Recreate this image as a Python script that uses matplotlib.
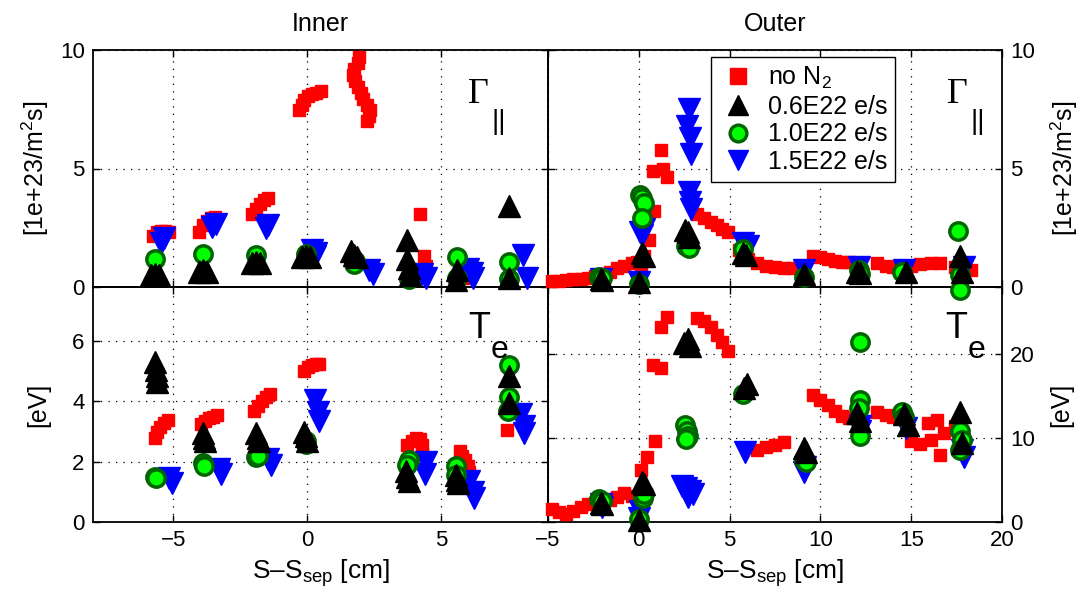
import matplotlib
matplotlib.use("Agg")
import matplotlib.pyplot as plt
from matplotlib.lines import Line2D
import numpy as np

plt.rcParams['font.family'] = ['Liberation Sans', 'DejaVu Sans']
plt.rcParams['mathtext.fontset'] = 'custom'
plt.rcParams['mathtext.rm'] = 'Liberation Sans'
plt.rcParams['mathtext.it'] = 'Liberation Sans:italic'
plt.rcParams['mathtext.bf'] = 'Liberation Sans:bold'

series_labels = ['no N$_2$', '0.6E22 e/s', '1.0E22 e/s', '1.5E22 e/s']

# ---- inner target, particle flux [1e23/m^2 s] ----
in_gam_red_x = [-5.75, -5.6, -5.45, -5.3, -5.15, -4.05, -3.9, -3.75, -3.6, -3.45,
                -2.05, -1.9, -1.75, -1.6, -1.45, -0.3, -0.2, -0.1, 0.05, 0.2, 0.35, 0.5,
                1.95, 1.9, 1.75, 1.7, 1.8, 1.9, 2.0, 2.1, 2.25, 2.35, 2.3, 2.25,
                4.2, 4.35, 4.45, 5.7, 5.9]
in_gam_red_y = [2.15, 2.3, 2.35, 2.35, 2.3, 2.3, 2.6, 2.8, 2.9, 2.95,
                3.1, 3.3, 3.5, 3.65, 3.75, 7.45, 7.7, 7.9, 8.05, 8.15, 8.2, 8.25,
                9.7, 9.45, 9.2, 8.95, 8.7, 8.45, 8.2, 7.95, 7.7, 7.45, 7.2, 7.0,
                3.1, 1.3, 0.9, 0.5, 0.4]
in_gam_blk_x = [-5.85, -5.7, -5.55, -4.05, -3.9, -3.75, -2.05, -1.9, -1.75, -0.2, -0.05, 0.1,
                1.65, 1.75, 1.85, 3.75, 3.75, 3.8, 3.85, 5.6, 5.55, 7.55, 7.55]
in_gam_blk_y = [0.5, 0.55, 0.5, 0.65, 0.7, 0.65, 1.0, 1.05, 1.0, 1.25, 1.3, 1.25,
                1.5, 1.35, 1.25, 2.0, 1.2, 0.8, 0.5, 0.7, 0.3, 3.4, 0.4]
in_gam_grn_x = [-5.7, -3.9, -1.9, -0.05, 1.8, 1.75, 3.8, 5.6, 5.6, 7.55, 7.55]
in_gam_grn_y = [1.2, 1.4, 1.35, 1.4, 1.1, 0.95, 0.35, 1.27, 0.4, 1.05, 0.35]
in_gam_blu_x = [-5.35, -5.45, -3.55, -3.4, -1.55, -1.45, 0.2, 0.35, 0.3, 2.3, 2.45,
                4.3, 4.45, 6.0, 6.15, 6.2, 8.05, 8.2]
in_gam_blu_y = [2.05, 1.85, 2.55, 2.65, 2.5, 2.6, 1.55, 1.45, 1.3, 0.7, 0.55,
                0.55, 0.4, 0.75, 0.6, 0.4, 1.35, 0.4]

# ---- inner target, electron temperature [eV] ----
in_te_red_x = [-5.7, -5.6, -5.5, -5.35, -5.2, -3.95, -3.8, -3.65, -3.5, -3.35,
               -2.0, -1.85, -1.7, -1.55, -1.4, -0.1, 0.05, 0.2, 0.35, 0.45,
               3.75, 3.9, 4.05, 4.2, 4.3, 4.3, 5.7, 5.8, 5.9, 6.0, 6.05, 7.45]
in_te_red_y = [2.8, 3.0, 3.15, 3.3, 3.4, 3.25, 3.35, 3.45, 3.5, 3.55,
               3.7, 3.85, 4.0, 4.15, 4.25, 5.0, 5.15, 5.2, 5.25, 5.25,
               2.55, 2.7, 2.8, 2.75, 2.55, 2.3, 2.35, 2.2, 2.05, 1.85, 1.65, 3.05]
in_te_blk_x = [-5.7, -5.65, -5.6, -5.6, -3.9, -3.85, -3.8, -1.9, -1.85, -1.8,
               -0.1, -0.05, 0.0, 3.7, 3.75, 3.8, 5.55, 5.6, 5.65, 7.55, 7.55]
in_te_blk_y = [5.3, 5.05, 4.85, 4.65, 2.95, 2.8, 2.7, 2.95, 2.8, 2.7,
               3.0, 2.85, 2.7, 1.7, 1.5, 1.35, 1.55, 1.4, 1.3, 4.85, 3.95]
in_te_grn_x = [-5.7, -5.65, -3.9, -3.85, -1.9, -1.85, -0.05, -0.05, 3.8, 3.75,
               5.55, 5.55, 7.55, 7.55, 7.5]
in_te_grn_y = [1.5, 1.45, 1.95, 1.85, 2.15, 2.2, 2.7, 2.6, 2.05, 1.9,
               1.85, 1.55, 5.2, 4.15, 3.7]
in_te_blu_x = [-5.15, -5.05, -3.3, -3.2, -1.45, -1.35, 0.3, 0.4, 0.45, 4.45, 4.4,
               6.05, 6.2, 6.25, 8.0, 8.1, 8.1]
in_te_blu_y = [1.45, 1.3, 1.75, 1.6, 2.1, 1.9, 4.05, 3.65, 3.35, 2.0, 1.6,
               1.35, 1.0, 0.8, 3.6, 3.2, 2.95]

# ---- outer target, particle flux ----
out_gam_red_x = [-4.8, -4.4, -4.0, -3.6, -3.2, -2.8, -2.4, -2.0, -1.6, -1.2, -0.8, -0.4,
                 -0.1, 0.1, 0.3, 0.55, 0.85, 0.8, 1.2, 1.35, 1.55, 3.2, 3.6, 4.0, 4.3,
                 4.6, 4.9, 5.5, 6.0, 6.5, 7.0, 7.5, 8.0, 8.5, 9.6, 10.0, 10.4, 10.8,
                 11.2, 11.6, 13.1, 13.6, 14.0, 15.0, 15.5, 16.1, 16.6, 17.4, 18.3]
out_gam_red_y = [0.25, 0.27, 0.3, 0.32, 0.35, 0.4, 0.45, 0.55, 0.65, 0.8, 0.9, 1.0,
                 1.05, 0.85, 1.3, 2.0, 3.2, 4.9, 5.8, 5.0, 4.65, 3.1, 2.9, 2.75, 2.6,
                 2.45, 2.3, 1.55, 1.2, 1.0, 0.9, 0.85, 0.8, 0.8, 1.3, 1.25, 1.2, 1.1,
                 1.05, 1.05, 1.0, 0.9, 0.85, 0.9, 0.95, 1.0, 1.0, 0.85, 0.7]
out_gam_blk_x = [-2.1, -2.0, 0.0, 0.2, 0.3, 2.55, 2.7, 2.75, 5.75, 5.9, 9.1,
                 12.0, 12.2, 14.7, 17.7, 17.8]
out_gam_blk_y = [0.35, 0.3, 0.2, 1.45, 1.3, 2.4, 2.3, 2.1, 1.45, 1.35, 0.55,
                 0.65, 0.6, 0.63, 1.3, 0.65]
out_gam_grn_x = [-2.2, -2.05, 0.0, 0.05, 0.2, 0.3, 0.15, 2.6, 2.75, 5.75, 9.1,
                 12.1, 12.2, 14.5, 17.6, 17.7, 17.7]
out_gam_grn_y = [0.42, 0.4, 0.14, 3.9, 3.75, 3.55, 2.9, 1.75, 1.65, 1.6, 0.42,
                 0.7, 0.55, 0.63, 2.35, 0.5, -0.12]
out_gam_blu_x = [-2.1, 0.0, 0.05, 0.2, 0.3, 2.75, 2.65, 2.8, 2.9, 2.75, 2.8, 2.85,
                 5.75, 6.0, 9.1, 12.1, 14.6, 17.9]
out_gam_blu_y = [0.35, 0.2, 2.3, 2.2, 2.45, 7.5, 6.8, 6.3, 5.6, 4.0, 3.6, 3.3,
                 1.85, 1.75, 0.7, 0.85, 0.7, 0.85]

# ---- outer target, electron temperature ----
out_te_red_x = [-4.8, -4.4, -4.0, -3.6, -3.2, -2.8, -2.4, -2.0, -1.6, -1.2, -0.8, -0.4,
                -0.1, 0.1, 0.45, 0.9, 0.8, 1.2, 1.2, 1.55, 3.2, 3.6, 4.0, 4.3, 4.6,
                4.9, 6.5, 7.0, 7.5, 8.0, 9.6, 10.0, 10.4, 10.8, 11.2, 11.6, 13.1,
                13.6, 14.0, 15.0, 15.5, 15.9, 16.1, 16.4, 16.6, 16.8, 17.4]
out_te_red_y = [1.5, 1.2, 1.0, 1.3, 1.8, 2.1, 2.3, 2.5, 2.6, 3.0, 3.4, 3.1,
                3.0, 6.2, 7.8, 9.6, 18.7, 18.3, 23.2, 24.4, 24.3, 24.0, 23.2, 22.3, 21.4,
                20.4, 8.6, 8.9, 9.2, 9.5, 15.1, 14.5, 13.9, 13.2, 12.6, 12.4, 13.1,
                12.7, 12.5, 9.6, 9.3, 11.8, 9.8, 12.2, 8.0, 10.6, 11.4]
out_te_blk_x = [-2.1, -2.0, 0.0, 0.2, 0.3, 2.5, 2.7, 2.8, 5.8, 5.95, 9.1, 9.2,
                12.0, 12.2, 14.6, 14.8, 17.7, 17.8]
out_te_blk_y = [2.3, 2.2, 0.2, 4.8, 4.5, 21.3, 21.8, 21.0, 16.0, 16.4, 8.8, 8.4,
                13.0, 12.0, 12.9, 11.6, 13.1, 9.4]
out_te_grn_x = [-2.2, -2.0, 0.0, 0.25, 0.3, 2.55, 2.65, 2.7, 2.6, 5.75, 9.1, 9.2,
                12.2, 12.2, 12.1, 12.2, 14.5, 14.6, 17.7, 17.8, 17.7]
out_te_grn_y = [2.7, 2.5, 0.3, 2.9, 3.3, 11.5, 10.8, 10.3, 9.9, 15.3, 7.4, 7.2,
                21.5, 14.5, 13.6, 10.2, 13.1, 12.5, 10.8, 9.8, 8.6]
out_te_blu_x = [-2.1, -2.05, 0.0, 0.05, 2.4, 2.6, 2.8, 3.0, 2.7, 5.85, 9.1, 9.15,
                12.2, 12.2, 14.7, 17.9, 17.8]
out_te_blu_y = [2.1, 1.8, 0.5, 1.3, 4.3, 4.0, 3.7, 3.3, 3.0, 8.4, 6.0, 6.6,
                11.4, 10.8, 11.2, 7.8, 8.6]

styles = [
    dict(marker='s', color='#ff0000', markersize=9, markeredgecolor='#ff0000'),
    dict(marker='^', color='black', markersize=16, markeredgecolor='black'),
    dict(marker='o', markerfacecolor='#00ff00', markeredgecolor='#006400',
         markeredgewidth=2.5, markersize=12.5, color='#006400'),
    dict(marker='v', color='#0000ff', markersize=16, markeredgecolor='#0000ff'),
]

fig = plt.figure(figsize=(10.91, 6.11), dpi=100)
L, M, R = 93 / 1091, 548 / 1091, 1002 / 1091
B, Mid, T = 1 - 522 / 611, 1 - 287 / 611, 1 - 50 / 611
ax_bl = fig.add_axes([L, B, M - L, Mid - B])
ax_br = fig.add_axes([M, B, R - M, Mid - B])
ax_tl = fig.add_axes([L, Mid, M - L, T - Mid])
ax_tr = fig.add_axes([M, Mid, R - M, T - Mid])


def draw(ax, data):
    # draw order: red, blue, green, black (black ends up on top)
    for idx in [0, 3, 2, 1]:
        x, y = data[idx]
        ax.plot(x, y, linestyle='none', clip_on=False, zorder=3, **styles[idx])


draw(ax_tl, [(in_gam_red_x, in_gam_red_y), (in_gam_blk_x, in_gam_blk_y),
             (in_gam_grn_x, in_gam_grn_y), (in_gam_blu_x, in_gam_blu_y)])
draw(ax_bl, [(in_te_red_x, in_te_red_y), (in_te_blk_x, in_te_blk_y),
             (in_te_grn_x, in_te_grn_y), (in_te_blu_x, in_te_blu_y)])
draw(ax_tr, [(out_gam_red_x, out_gam_red_y), (out_gam_blk_x, out_gam_blk_y),
             (out_gam_grn_x, out_gam_grn_y), (out_gam_blu_x, out_gam_blu_y)])
draw(ax_br, [(out_te_red_x, out_te_red_y), (out_te_blk_x, out_te_blk_y),
             (out_te_grn_x, out_te_grn_y), (out_te_blu_x, out_te_blu_y)])

for ax in [ax_tl, ax_tr, ax_bl, ax_br]:
    ax.set_facecolor('none')
    ax.set_axisbelow(True)
    ax.grid(True, color='black', linestyle=(0, (1, 5)), linewidth=0.9)
    ax.tick_params(direction='in', length=5, width=1, top=True, right=True,
                   labelsize=16, pad=6)
    for sp in ax.spines.values():
        sp.set_linewidth(1.3)

ax_tl.set_xlim(-8, 9)
ax_bl.set_xlim(-8, 9)
ax_tr.set_xlim(-5, 20)
ax_br.set_xlim(-5, 20)
ax_tl.set_ylim(0, 10)
ax_tr.set_ylim(0, 10)
ax_bl.set_ylim(0, 7.8)
ax_br.set_ylim(0, 28)

ax_tl.set_xticks([-5, 0, 5])
ax_bl.set_xticks([-5, 0, 5])
ax_tr.set_xticks([-5, 0, 5, 10, 15, 20])
ax_br.set_xticks([-5, 0, 5, 10, 15, 20])
ax_tl.set_yticks([0, 5, 10])
ax_tr.set_yticks([0, 5, 10])
ax_bl.set_yticks([0, 2, 4, 6])
ax_br.set_yticks([0, 10, 20])
ax_bl.set_xticklabels(['\u22125', '0', '5'])
ax_br.set_xticklabels(['\u22125', '0', '5', '10', '15', '20'])

for ax in [ax_tl, ax_tr]:
    ax.tick_params(labelbottom=False)
for ax in [ax_tr, ax_br]:
    ax.tick_params(labelleft=False, labelright=True)
    ax.yaxis.set_label_position('right')

ax_tl.set_title('Inner', fontsize=18, pad=14)
ax_tr.set_title('Outer', fontsize=18, pad=14)
ax_tl.set_ylabel('[1e+23/m$^2$s]', fontsize=18, labelpad=6)
ax_tr.set_ylabel('[1e+23/m$^2$s]', fontsize=18, labelpad=10)
ax_bl.set_ylabel('[eV]', fontsize=18, labelpad=16)
ax_br.set_ylabel('[eV]', fontsize=18, labelpad=10)
ax_bl.set_xlabel('S\u2013S$_{\\rm sep}$ [cm]', fontsize=19, labelpad=4)
ax_br.set_xlabel('S\u2013S$_{\\rm sep}$ [cm]', fontsize=19, labelpad=4)

# panel annotations
for ax, gx in [(ax_tl, 0.824), (ax_tr, 0.879)]:
    ax.text(gx, 0.776, '\u0393', transform=ax.transAxes, fontsize=26,
            family='Liberation Serif', va='baseline', ha='left')
    ax.text(gx + 0.052, 0.665, '||', transform=ax.transAxes, fontsize=20,
            va='baseline', ha='left')
for ax, tx in [(ax_bl, 0.824), (ax_br, 0.874)]:
    ax.text(tx, 0.783, 'T', transform=ax.transAxes, fontsize=26,
            va='baseline', ha='left')
    ax.text(tx + 0.05, 0.698, 'e', transform=ax.transAxes, fontsize=23,
            va='baseline', ha='left')

handles = []
leg_sizes = [11, 15, 12, 15]
for st, ms in zip(styles, leg_sizes):
    kw = dict(st)
    kw['markersize'] = ms
    handles.append(Line2D([], [], linestyle='none', **kw))
leg = ax_tr.legend(handles, series_labels, loc='upper left',
                   bbox_to_anchor=(0.359, 0.97), fontsize=18, frameon=True,
                   fancybox=False, framealpha=1, edgecolor='black',
                   borderpad=0.3, labelspacing=0.15, handletextpad=0.4,
                   handlelength=1.6, borderaxespad=0)
leg.get_frame().set_linewidth(1.0)

fig.savefig('out.png', dpi=100, facecolor='white')
